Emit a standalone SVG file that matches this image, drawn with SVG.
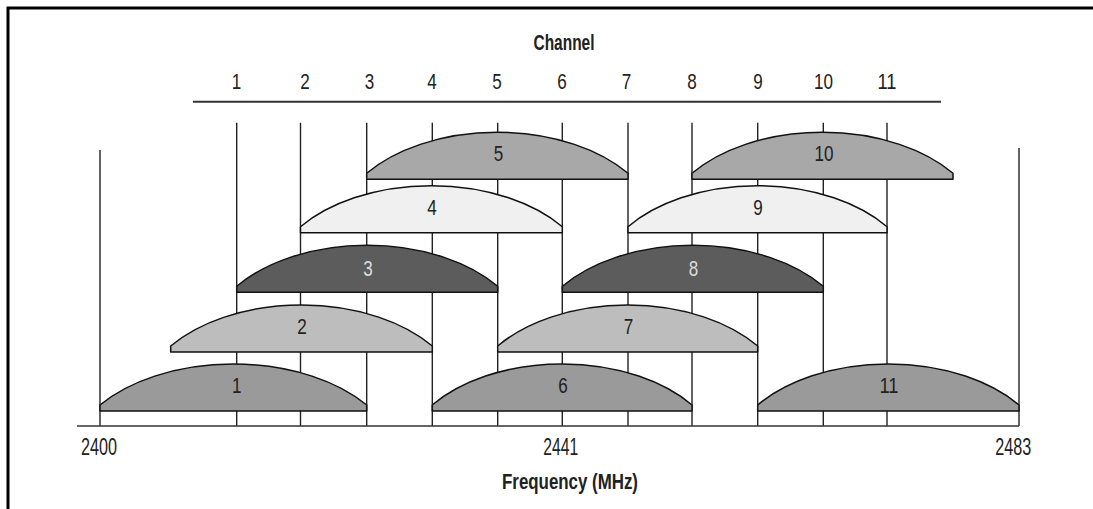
<svg xmlns="http://www.w3.org/2000/svg" width="1093" height="509" viewBox="0 0 1093 509">
  <style>
    .frame { fill: #ffffff; stroke: #000000; stroke-width: 3; }
    .guide { stroke: #222222; stroke-width: 1.4; fill: none; }
    .rule { stroke: #333333; stroke-width: 2; fill: none; }
    .axis { stroke: #333333; stroke-width: 1.6; fill: none; }
    .lobe { stroke: #111111; stroke-width: 1.5; stroke-linejoin: round; }
    .r1 { fill: #9a9a9a; }
    .r2 { fill: #bdbdbd; }
    .r3 { fill: #5c5c5c; }
    .r4 { fill: #f0f0f0; }
    .r5 { fill: #a8a8a8; }
    text { font-family: "Liberation Sans", Arial, sans-serif; fill: #222222; text-anchor: middle; }
    .num { font-size: 22px; }
    .lbl { font-size: 22px; }
    .light { fill: #dcdcdc; }
    .title { font-size: 22px; font-weight: bold; }
    .freq { font-size: 23px; }
  </style>

  <!-- outer frame -->
  <rect class="frame" x="8" y="8" width="1100" height="520"/>

  <!-- channel number header -->
  <g id="header">
    <text class="title" x="564" y="50" textLength="61" lengthAdjust="spacingAndGlyphs">Channel</text>
    <text class="num" x="236.5" y="89" textLength="9.5" lengthAdjust="spacingAndGlyphs">1</text>
    <text class="num" x="305" y="89" textLength="9.5" lengthAdjust="spacingAndGlyphs">2</text>
    <text class="num" x="369.5" y="89" textLength="9.5" lengthAdjust="spacingAndGlyphs">3</text>
    <text class="num" x="432" y="89" textLength="9.5" lengthAdjust="spacingAndGlyphs">4</text>
    <text class="num" x="497" y="89" textLength="9.5" lengthAdjust="spacingAndGlyphs">5</text>
    <text class="num" x="562" y="89" textLength="9.5" lengthAdjust="spacingAndGlyphs">6</text>
    <text class="num" x="626.5" y="89" textLength="9.5" lengthAdjust="spacingAndGlyphs">7</text>
    <text class="num" x="692" y="89" textLength="9.5" lengthAdjust="spacingAndGlyphs">8</text>
    <text class="num" x="758" y="89" textLength="9.5" lengthAdjust="spacingAndGlyphs">9</text>
    <text class="num" x="823.5" y="89" textLength="19" lengthAdjust="spacingAndGlyphs">10</text>
    <text class="num" x="887" y="89" textLength="19" lengthAdjust="spacingAndGlyphs">11</text>
    <line class="rule" x1="193" y1="101.7" x2="941" y2="101.7"/>
  </g>

  <!-- channel centre guides, band edges and frequency axis -->
  <g id="connectors">
    <line class="guide" x1="236.7" y1="122.7" x2="236.7" y2="426"/>
    <line class="guide" x1="300.5" y1="122.7" x2="300.5" y2="426"/>
    <line class="guide" x1="366.7" y1="122.7" x2="366.7" y2="426"/>
    <line class="guide" x1="432.3" y1="122.7" x2="432.3" y2="426"/>
    <line class="guide" x1="497.7" y1="122.7" x2="497.7" y2="426"/>
    <line class="guide" x1="562.3" y1="122.7" x2="562.3" y2="426"/>
    <line class="guide" x1="628" y1="122.7" x2="628" y2="426"/>
    <line class="guide" x1="692" y1="122.7" x2="692" y2="426"/>
    <line class="guide" x1="757.7" y1="122.7" x2="757.7" y2="426"/>
    <line class="guide" x1="823.3" y1="122.7" x2="823.3" y2="426"/>
    <line class="guide" x1="887" y1="122.7" x2="887" y2="426"/>
    <line class="guide" x1="100" y1="150" x2="100" y2="426"/>
    <line class="guide" x1="1019" y1="148" x2="1019" y2="426"/>
    <line class="axis" x1="77" y1="426" x2="1019" y2="426"/>
  </g>

  <!-- row 1: channels 1, 6, 11 -->
  <g id="ch1">
    <path class="lobe r1" d="M100,411 V405 A165.8,101 0 0 1 366.7,405 V411 Z"/>
    <text class="lbl" x="236.7" y="393" textLength="9.5" lengthAdjust="spacingAndGlyphs">1</text>
  </g>
  <g id="ch6">
    <path class="lobe r1" d="M432.3,411 V405 A161.4,101 0 0 1 692,405 V411 Z"/>
    <text class="lbl" x="563" y="393" textLength="9.5" lengthAdjust="spacingAndGlyphs">6</text>
  </g>
  <g id="ch11">
    <path class="lobe r1" d="M757.7,411 V405 A162.4,101 0 0 1 1019,405 V411 Z"/>
    <text class="lbl" x="889" y="393" textLength="19" lengthAdjust="spacingAndGlyphs">11</text>
  </g>

  <!-- row 2: channels 2, 7 -->
  <g id="ch2">
    <path class="lobe r2" d="M170.7,352 V346 A162.6,101 0 0 1 432.3,346 V352 Z"/>
    <text class="lbl" x="302" y="334" textLength="9.5" lengthAdjust="spacingAndGlyphs">2</text>
  </g>
  <g id="ch7">
    <path class="lobe r2" d="M497.7,352 V346 A161.6,101 0 0 1 757.7,346 V352 Z"/>
    <text class="lbl" x="628.5" y="334" textLength="9.5" lengthAdjust="spacingAndGlyphs">7</text>
  </g>

  <!-- row 3: channels 3, 8 -->
  <g id="ch3">
    <path class="lobe r3" d="M236.7,292.3 V286.3 A162.2,101 0 0 1 497.7,286.3 V292.3 Z"/>
    <text class="lbl light" x="368" y="275.5" textLength="9.5" lengthAdjust="spacingAndGlyphs">3</text>
  </g>
  <g id="ch8">
    <path class="lobe r3" d="M562.3,292.3 V286.3 A162.2,101 0 0 1 823.3,286.3 V292.3 Z"/>
    <text class="lbl light" x="693.5" y="275.5" textLength="9.5" lengthAdjust="spacingAndGlyphs">8</text>
  </g>

  <!-- row 4: channels 4, 9 -->
  <g id="ch4">
    <path class="lobe r4" d="M300.5,232.7 V226.7 A162.7,101 0 0 1 562.3,226.7 V232.7 Z"/>
    <text class="lbl" x="432" y="215" textLength="9.5" lengthAdjust="spacingAndGlyphs">4</text>
  </g>
  <g id="ch9">
    <path class="lobe r4" d="M628,232.7 V226.7 A161,101 0 0 1 887,226.7 V232.7 Z"/>
    <text class="lbl" x="758" y="215" textLength="9.5" lengthAdjust="spacingAndGlyphs">9</text>
  </g>

  <!-- row 5: channels 5, 10 -->
  <g id="ch5">
    <path class="lobe r5" d="M366.7,179.3 V173.3 A162.4,101 0 0 1 628,173.3 V179.3 Z"/>
    <text class="lbl" x="498.5" y="161" textLength="9.5" lengthAdjust="spacingAndGlyphs">5</text>
  </g>
  <g id="ch10">
    <path class="lobe r5" d="M692,179.3 V173.3 A162.2,101 0 0 1 953,173.3 V179.3 Z"/>
    <text class="lbl" x="824" y="161" textLength="19" lengthAdjust="spacingAndGlyphs">10</text>
  </g>

  <!-- frequency scale -->
  <g id="freq-axis">
    <text class="freq" x="99" y="455" textLength="36" lengthAdjust="spacingAndGlyphs">2400</text>
    <text class="freq" x="560.7" y="455" textLength="35" lengthAdjust="spacingAndGlyphs">2441</text>
    <text class="freq" x="1013.3" y="455" textLength="36" lengthAdjust="spacingAndGlyphs">2483</text>
    <text class="title" x="570" y="489" textLength="136" lengthAdjust="spacingAndGlyphs">Frequency (MHz)</text>
  </g>
</svg>
